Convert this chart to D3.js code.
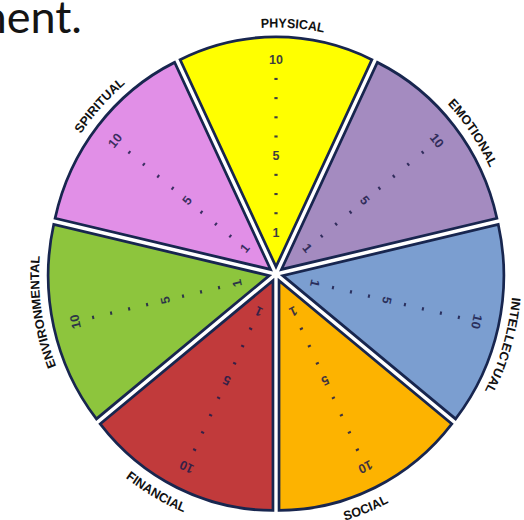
<!DOCTYPE html>
<html>
<head>
<meta charset="utf-8">
<script src="https://cdn.jsdelivr.net/npm/d3@7"></script>
<style>
  body { margin: 0; background: #fff; }
  svg { display: block; }
</style>
</head>
<body>
<script>
// wheel categories, clockwise from the top
const categories = ["PHYSICAL", "EMOTIONAL", "INTELLECTUAL", "SOCIAL", "FINANCIAL", "ENVIRONMENTAL", "SPIRITUAL"];
const fills = ["#ffff00", "#a48bc0", "#7b9ed0", "#fdb300", "#c13a3b", "#8dc53d", "#e18fe7"];
// scale printed on every wedge
const numberLabels = [1, 5, 10];
const dotValues = [2, 3, 4, 6, 7, 8, 9];
const heading = "ment.";

const width = 524, height = 520;
const cx = 276, cy = 274, stretch = 1.04;
const radius = 221, explode = 7;

const svg = d3.select("body").append("svg")
  .attr("width", width)
  .attr("height", height);

svg.append("text")
  .attr("x", 82)
  .attr("y", 33)
  .attr("text-anchor", "end")
  .style("font-family", "Lato, 'Noto Sans', sans-serif")
  .style("font-size", "45px")
  .style("fill", "#141414")
  .text(heading);

const g = svg.append("g")
  .attr("transform", `translate(${cx},${cy}) scale(1,${stretch})`);

const pie = d3.pie().value(1).sort(null)
  .startAngle(-Math.PI / 7)
  .endAngle(2 * Math.PI - Math.PI / 7);
const slices = pie(categories);

const arc = d3.arc().innerRadius(0).outerRadius(radius);
const rScale = d3.scaleLinear().domain([1, 10]).range([40, 206]);

const mid = d => (d.startAngle + d.endAngle) / 2;

// wedges, each pushed out a little along its bisector
g.selectAll("path.wedge")
  .data(slices)
  .enter().append("path")
  .attr("class", "wedge")
  .attr("transform", d => `translate(${explode * Math.sin(mid(d))},${-explode * Math.cos(mid(d))})`)
  .attr("d", arc)
  .attr("fill", (d, i) => fills[i])
  .attr("stroke", "#18264f")
  .attr("stroke-width", 2.7)
  .attr("stroke-linejoin", "miter");

// numbers and dots along the middle of each wedge
const spokes = g.selectAll("g.spoke")
  .data(slices)
  .enter().append("g")
  .attr("class", "spoke")
  .attr("transform", d => `rotate(${mid(d) * 180 / Math.PI})`)
  .style("opacity", 0.85);

spokes.selectAll("text")
  .data(numberLabels)
  .enter().append("text")
  .attr("x", 0)
  .attr("y", v => -rScale(v))
  .attr("text-anchor", "middle")
  .attr("dominant-baseline", "central")
  .style("font-family", "'Liberation Sans', Arial, sans-serif")
  .style("font-weight", "bold")
  .style("font-size", "12.5px")
  .style("fill", "#1c1c4a")
  .text(v => v);

spokes.selectAll("rect")
  .data(dotValues)
  .enter().append("rect")
  .attr("x", -1.6)
  .attr("y", v => -rScale(v) - 1)
  .attr("width", 3.2)
  .attr("height", 2)
  .attr("fill", "#1c1c4a");

// curved category names round the rim
const labelShift = 4 * Math.PI / 180;
const span = 0.9;
const pt = (r, a) => [r * Math.sin(a), -r * Math.cos(a)];

const defs = svg.append("defs");
slices.forEach((d, i) => {
  const a = mid(d) + labelShift;
  const deg = a * 180 / Math.PI;
  const flip = deg > 120 && deg < 240;
  let p;
  if (!flip) {
    const r = 237;
    const [x0, y0] = pt(r, a - span), [x1, y1] = pt(r, a + span);
    p = `M${x0},${y0} A${r},${r} 0 0 1 ${x1},${y1}`;
  } else {
    const r = 247;
    const [x0, y0] = pt(r, a + span), [x1, y1] = pt(r, a - span);
    p = `M${x0},${y0} A${r},${r} 0 0 0 ${x1},${y1}`;
  }
  defs.append("path").attr("id", "lab" + i).attr("d", p);
});

g.selectAll("text.cat")
  .data(slices)
  .enter().append("text")
  .attr("class", "cat")
  .style("font-family", "'Liberation Sans', Arial, sans-serif")
  .style("font-weight", "bold")
  .style("font-size", "12.5px")
  .style("fill", "#111")
  .append("textPath")
  .attr("href", (d, i) => "#lab" + i)
  .attr("startOffset", "50%")
  .attr("text-anchor", "middle")
  .text(d => d.data);
</script>
</body>
</html>
